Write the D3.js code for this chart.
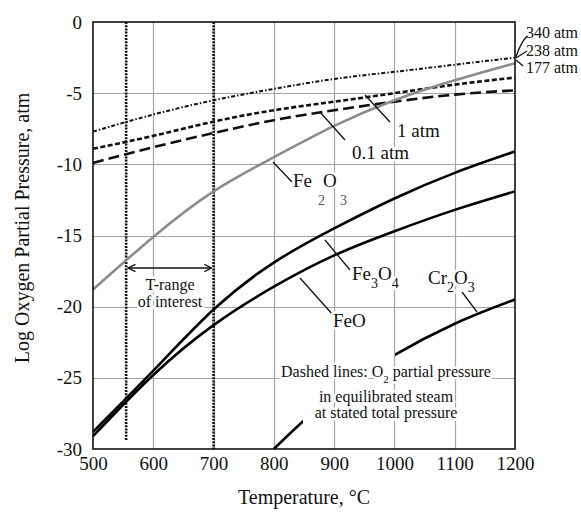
<!DOCTYPE html>
<html><head><meta charset="utf-8">
<script src="https://cdn.jsdelivr.net/npm/d3@7"></script>
<style>
body{margin:0;background:#fff}
text{font-family:"Liberation Serif","Times New Roman",serif;fill:#111}
</style></head>
<body><svg id="c" width="581" height="514"></svg>
<script>
// ---- data ----
const xTicks=[500,600,700,800,900,1000,1100,1200];
const yTicks=[0,-5,-10,-15,-20,-25,-30];
const temps=[500,600,700,800,900,1000,1100,1200];
const fe2o3=[-18.8,-15.1,-11.9,-9.5,-7.3,-5.5,-4.1,-2.9];
const fe3o4=[-28.8,-24.5,-20.2,-16.9,-14.5,-12.4,-10.6,-9.1];
const feo=[-29.1,-24.8,-21.3,-18.6,-16.4,-14.7,-13.2,-11.9];
const steamHigh=[-7.7,-6.5,-5.5,-4.7,-4.0,-3.5,-3.0,-2.5];
const steam1=[-8.9,-8.0,-7.0,-6.2,-5.6,-5.0,-4.4,-3.9];
const steam01=[-9.9,-8.8,-7.8,-6.9,-6.2,-5.6,-5.1,-4.8];
const crTemps=[800,850,900,950,1000,1100,1200];
const cr2o3=[-30,-28.0,-26.3,-24.8,-23.4,-21.2,-19.5];
const tRange=[555,700];
const highLabels=["340 atm","238 atm","177 atm"];

// ---- layout ----
const svg=d3.select("#c");
svg.append("rect").attr("width",581).attr("height",514).attr("fill","#fff");
const x=d3.scaleLinear().domain([500,1200]).range([93,515]);
const y=d3.scaleLinear().domain([-30,0]).range([449,22]);
const line=(xs,ys)=>d3.line().x((d,i)=>x(xs[i])).y(d=>y(d)).curve(d3.curveNatural)(ys);

// grid
const gridPath=d3.path();
xTicks.slice(1,-1).forEach(d=>{gridPath.moveTo(Math.round(x(d))+0.5,y(0));gridPath.lineTo(Math.round(x(d))+0.5,y(-30));});
yTicks.slice(1,-1).forEach(d=>{gridPath.moveTo(x(500),Math.round(y(d))+0.5);gridPath.lineTo(x(1200),Math.round(y(d))+0.5);});
svg.append("path").attr("d",gridPath.toString()).attr("fill","none").attr("stroke","#a4a4a4").attr("stroke-width",1.2);

// T-range vertical lines
svg.append("line").attr("x1",x(tRange[0])).attr("x2",x(tRange[0])).attr("y1",y(0)).attr("y2",440)
  .attr("stroke","#111").attr("stroke-width",2.6).attr("stroke-dasharray","2,1.2");
svg.append("line").attr("x1",x(tRange[1])).attr("x2",x(tRange[1])).attr("y1",y(0)).attr("y2",y(-30))
  .attr("stroke","#111").attr("stroke-width",2.6).attr("stroke-dasharray","2,1.2");

// curves
svg.append("path").attr("d",line(temps,steamHigh)).attr("fill","none").attr("stroke","#111")
  .attr("stroke-width",2).attr("stroke-dasharray","4,2,1.5,2");
svg.append("path").attr("d",line(temps,steam1)).attr("fill","none").attr("stroke","#111")
  .attr("stroke-width",2.6).attr("stroke-dasharray","5,2.5");
svg.append("path").attr("d",line(temps,steam01)).attr("fill","none").attr("stroke","#111")
  .attr("stroke-width",2.6).attr("stroke-dasharray","11,5");
svg.append("path").attr("d",line(temps,fe2o3)).attr("fill","none").attr("stroke","#8c8c8c").attr("stroke-width",2.6);
svg.append("path").attr("d",line(temps,fe3o4)).attr("fill","none").attr("stroke","#000").attr("stroke-width",2.6);
svg.append("path").attr("d",line(temps,feo)).attr("fill","none").attr("stroke","#000").attr("stroke-width",2.6);

const defs=svg.append("defs");
const cp=defs.append("clipPath").attr("id","crclip");
cp.append("rect").attr("x",93).attr("y",22).attr("width",303-93).attr("height",427);
cp.append("rect").attr("x",395).attr("y",22).attr("width",515-395).attr("height",427);
svg.append("path").attr("d",line(crTemps,cr2o3)).attr("fill","none").attr("stroke","#000")
  .attr("stroke-width",2.6).attr("clip-path","url(#crclip)");

// frame
svg.append("rect").attr("x",x(500)).attr("y",y(0)).attr("width",x(1200)-x(500)).attr("height",y(-30)-y(0))
  .attr("fill","none").attr("stroke","#111").attr("stroke-width",1.6);

// axes labels
const xa=svg.append("g").attr("transform",`translate(0,${y(-30)})`)
  .call(d3.axisBottom(x).tickValues(xTicks).tickSize(0).tickPadding(8).tickFormat(d3.format("d")));
xa.select(".domain").remove();
xa.selectAll("text").attr("font-size",19).attr("font-family","Liberation Serif").attr("fill","#111");
const ya=svg.append("g").attr("transform",`translate(${x(500)},0)`)
  .call(d3.axisLeft(y).tickValues(yTicks).tickSize(0).tickPadding(11).tickFormat(d=>d===0?"0":String(d)));
ya.select(".domain").remove();
ya.selectAll("text").attr("font-size",19).attr("font-family","Liberation Serif").attr("fill","#111");

svg.append("text").attr("x",304).attr("y",504).attr("text-anchor","middle").attr("font-size",20).text("Temperature, °C");
svg.append("text").attr("transform","translate(29,228) rotate(-90)").attr("text-anchor","middle").attr("font-size",20)
  .text("Log Oxygen Partial Pressure, atm");

// leaders
const lead=svg.append("g").attr("stroke","#111").attr("stroke-width",1.3).attr("fill","none");
[["M273,162L292,182"],["M365,95L390,122"],["M320,112L345,140"],["M325,240L350,270"],["M300,278L333,315"],["M462,292L477,312"],
 ["M527,36Q520,44 516,57"],["M527,51L516,58"],["M523,66L516,60"]].forEach(d=>lead.append("path").attr("d",d[0]));

// halo labels
function lbl(xp,yp,size){return svg.append("text").attr("x",xp).attr("y",yp).attr("font-size",size)
  .attr("stroke","#fff").attr("stroke-width",5).attr("paint-order","stroke").attr("stroke-linejoin","round");}
lbl(397,137,19).text("1 atm");
lbl(352,159,19).text("0.1 atm");
// Fe2O3
const t1=lbl(293,187,19);
t1.append("tspan").text("Fe");
t1.append("tspan").attr("x",318).attr("y",205).attr("font-size",14).attr("fill","#555").text("2");
t1.append("tspan").attr("x",323).attr("y",187).text("O");
t1.append("tspan").attr("x",340).attr("y",205).attr("font-size",14).attr("fill","#555").text("3");
// Fe3O4
const t2=lbl(352,280,19);
t2.append("tspan").text("Fe");
t2.append("tspan").attr("dy",8).attr("font-size",14).text("3");
t2.append("tspan").attr("dy",-8).text("O");
t2.append("tspan").attr("dy",8).attr("font-size",14).text("4");
lbl(333,327,19).text("FeO");
const t3=lbl(428,284,19);
t3.append("tspan").text("Cr");
t3.append("tspan").attr("dy",8).attr("font-size",14).text("2");
t3.append("tspan").attr("dy",-8).text("O");
t3.append("tspan").attr("dy",8).attr("font-size",14).text("3");

// top-right labels
highLabels.forEach((s,i)=>svg.append("text").attr("x",526).attr("y",[38,56,73][i]).attr("font-size",16).text(s));

// T-range arrow
const mk=defs.append("marker").attr("id","ar").attr("viewBox","0 0 10 10").attr("refX",9).attr("refY",5)
  .attr("markerWidth",7).attr("markerHeight",7).attr("orient","auto-start-reverse");
mk.append("path").attr("d","M1,1L9,5L1,9").attr("fill","none").attr("stroke","#111").attr("stroke-width",1.4);
svg.append("line").attr("x1",x(tRange[0])+2).attr("x2",x(tRange[1])-2).attr("y1",268).attr("y2",268)
  .attr("stroke","#111").attr("stroke-width",1.3).attr("marker-start","url(#ar)").attr("marker-end","url(#ar)");
lbl(170,290,16).attr("text-anchor","middle").text("T-range");
lbl(170,307,16).attr("text-anchor","middle").text("of interest");

// note
const n1=lbl(386,377,16).attr("text-anchor","middle");
n1.append("tspan").text("Dashed lines: O");
n1.append("tspan").attr("dy",6).attr("font-size",11).text("2");
n1.append("tspan").attr("dy",-6).text(" partial pressure");
lbl(386,402,16).attr("text-anchor","middle").text("in equilibrated steam");
lbl(386,418,16).attr("text-anchor","middle").text("at stated total pressure");
</script></body></html>
